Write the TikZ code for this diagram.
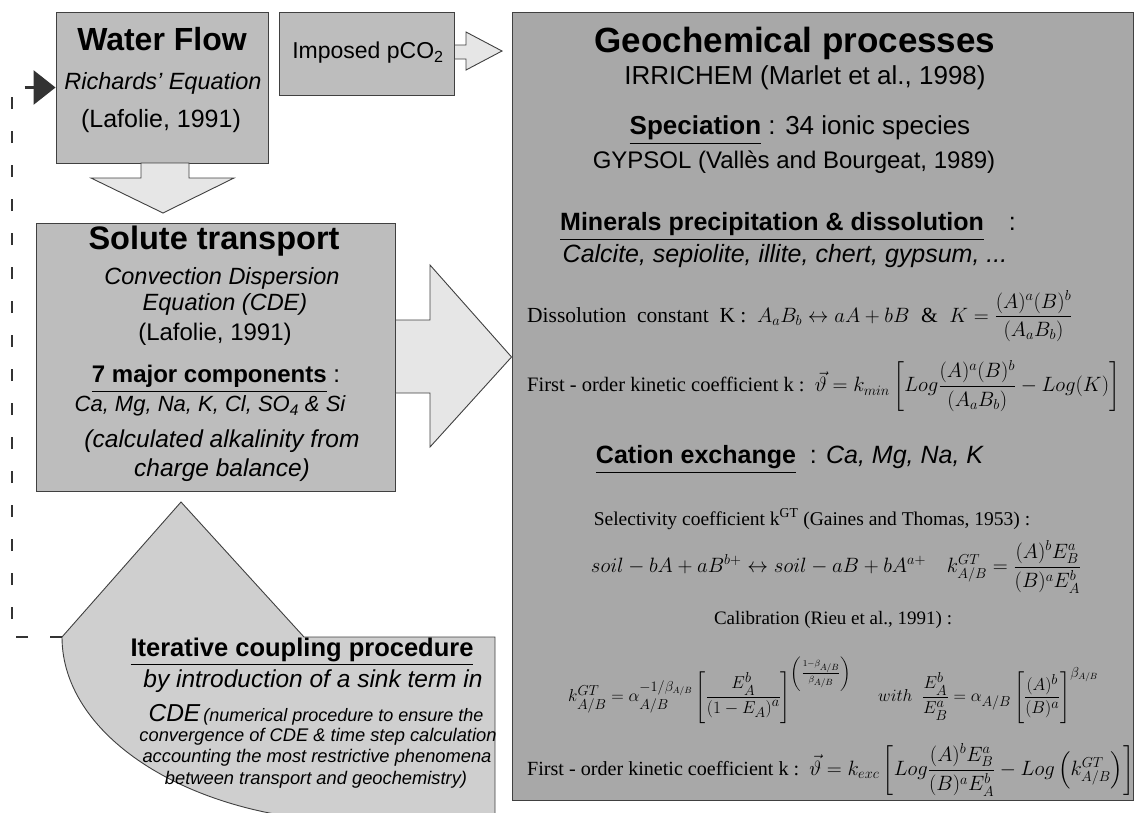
\documentclass[tikz,border=0pt]{standalone}
\usepackage{amsmath}
\usepackage{fontspec}
\setmainfont{Liberation Serif}
\setsansfont{Liberation Sans}
\usetikzlibrary{arrows.meta}
\definecolor{boxgray}{HTML}{BDBDBD}
\definecolor{geogray}{HTML}{A8A8A8}
\definecolor{arrowgray}{HTML}{E6E6E6}
\definecolor{itgray}{HTML}{CFCFCF}
\definecolor{edgegray}{HTML}{404040}
\newcommand{\fs}[1]{\fontsize{#1}{#1}\selectfont}
\begin{document}
\begin{tikzpicture}[x=1pt,y=-1pt,
  box/.style={draw=edgegray, line width=0.9pt, fill=boxgray, rectangle, inner sep=0pt},
  barrow/.style={draw=edgegray, line width=0.9pt, fill=arrowgray},
  txt/.style={inner sep=0pt, anchor=center, align=center},
  sbig/.style={txt, font=\sffamily\bfseries\fs{32}},
  sit/.style={txt, font=\sffamily\itshape\fs{23.5}},
  srm/.style={txt, font=\sffamily\fs{24}},
  rser/.style={txt, font=\rmfamily\fs{19}},
  dashconn/.style={draw=black!80, line width=2.8pt, dash pattern=on 12pt off 22pt, -{Triangle[length=22pt,width=34pt]}}
]
\useasboundingbox (0,0) rectangle (1137,812);
\clip (0,0) rectangle (1137,812);

% boxes
\node[box, minimum width=212pt, minimum height=151pt] (wf) at (162,87.5) {};
\node[box, minimum width=175pt, minimum height=83pt] (pco) at (366.5,53.5) {};
\node[box, fill=geogray, minimum width=621pt, minimum height=788pt] (geo) at (822.5,406) {};
\node[box, minimum width=359pt, minimum height=268pt] (st) at (215.5,357) {};

% iterative coupling shape
\filldraw[draw=edgegray, line width=0.9pt, fill=itgray]
  (181,502) -- (304,637) -- (495,637) -- (495,822) -- (362,822)
  arc[start angle=90, end angle=180, x radius=300, y radius=185] -- cycle;
\coordinate (itl) at (62,637);

% block arrows
\filldraw[barrow] (141,163) -- (189,163) -- (189,178) -- (234,178) -- (163,213) -- (91,178) -- (141,178) -- cycle;
\filldraw[barrow] (pco.east |- 0,45) -- (466,45) -- (466,32) -- (502,51) -- (466,70) -- (466,59) -- (pco.east |- 0,59) -- cycle;
\filldraw[barrow] (st.east |- 0,320) -- (430,320) -- (430,265) -- (geo.west |- 0,357) -- (430,447) -- (430,393) -- (st.east |- 0,393) -- cycle;

% dashed feedback connector
\draw[dashconn] (itl) -- (12,637) |- (wf.west);

% Water flow
\node[sbig] (wft) at (162,39) {Water Flow};
\node[sit] (wfr) at (163,83) {Richards' Equation};
\node[srm, font=\sffamily\fs{25}] (wfl) at (161,121) {(Lafolie, 1991)};
\node[srm, font=\sffamily\fs{23}] (pcot) at (368,53) {Imposed pCO\textsubscript{2}};

% Solute transport
\node[sbig, font=\sffamily\bfseries\fs{32.5}] (stt) at (214,241) {Solute transport};
\node[sit] (st1) at (222,278) {Convection Dispersion};
\node[sit] (st2) at (225,304) {Equation (CDE)};
\node[srm] (st3) at (215,334) {(Lafolie, 1991)};
\node[srm] (st4) at (216,379) {\underline{\textbf{7 major components}} :};
\node[sit, font=\sffamily\itshape\fs{22}] (st5) at (210,406) {Ca, Mg, Na, K, Cl, SO\textsubscript{4} \& Si};
\node[sit, font=\sffamily\itshape\fs{24.5}] (st6) at (222,441) {(calculated alkalinity from};
\node[sit, font=\sffamily\itshape\fs{24.5}] (st7) at (222,470) {charge balance)};

% Iterative coupling
\node[txt, font=\sffamily\bfseries\fs{25.5}] (it1) at (302,652) {\underline{Iterative coupling procedure}};
\node[sit, font=\sffamily\itshape\fs{24.5}] (it2) at (313,681) {by introduction of a sink term in};
\node[sit, font=\sffamily\itshape\fs{18}] (it3) at (316,715) {{\fs{24.5}CDE}\,(numerical procedure to ensure the};
\node[sit, font=\sffamily\itshape\fs{18.3}] (it4) at (318,737) {convergence of CDE \& time step calculation};
\node[sit, font=\sffamily\itshape\fs{18.3}] (it5) at (317,758) {accounting the most restrictive phenomena};
\node[sit, font=\sffamily\itshape\fs{18.3}] (it6) at (316,780) {between transport and geochemistry)};

% Geochemical processes
\node[txt, font=\sffamily\bfseries\fs{35}] (g1) at (795,43) {Geochemical processes};
\node[srm, font=\sffamily\fs{26}] (g2) at (805,78) {IRRICHEM (Marlet et al., 1998)};
\node[srm, font=\sffamily\fs{26}] (g3) at (800,130) {\underline{\textbf{Speciation}} : 34 ionic species};
\node[srm, font=\sffamily\fs{24}] (g4) at (794,162) {GYPSOL (Vallès and Bourgeat, 1989)};
\node[srm, font=\sffamily\fs{25}] (g5) at (788,227) {\underline{\textbf{Minerals precipitation \& dissolution}}\quad :};
\node[sit, font=\sffamily\itshape\fs{25}] (g6) at (785,256) {Calcite, sepiolite, illite, chert, gypsum, ...};
\node[rser, anchor=west, font=\rmfamily\fs{21.5}] (g7) at (527,316)
  {Dissolution\ \ constant\ \ K :\ \ $A_aB_b \leftrightarrow aA+bB \;\;\&\;\; K=\dfrac{(A)^a(B)^b}{\left(A_aB_b\right)}$};
\node[rser, anchor=west, font=\rmfamily\fs{20.5}] (g8) at (527,386)
  {First - order kinetic coefficient k :\ \ $\vec{\vartheta}=k_{min}\left[Log\dfrac{(A)^a(B)^b}{\left(A_aB_b\right)}-Log(K)\right]$};
\node[srm, font=\sffamily\fs{25}] (g9) at (790,460) {\underline{\textbf{Cation exchange}}\ \ : \textit{Ca, Mg, Na, K}};
\node[rser, font=\rmfamily\fs{19.5}] (g10) at (812,519) {Selectivity coefficient k$^{\mathrm{GT}}$ (Gaines and Thomas, 1953) :};
\node[rser, font=\rmfamily\fs{20.8}] (g11) at (836,567)
  {$soil-bA+aB^{b+}\leftrightarrow soil-aB+bA^{a+}\quad k^{GT}_{A/B}=\dfrac{(A)^bE_B^a}{(B)^aE_A^b}$};
\node[rser] (g12) at (833,620) {Calibration (Rieu et al., 1991) :};
\node[rser, anchor=west] (g13) at (568,690)
  {$k^{GT}_{A/B}=\alpha_{A/B}^{-1/\beta_{A/B}}\left[\dfrac{E_A^b}{\left(1-E_A\right)^a}\right]^{\left(\frac{1-\beta_{A/B}}{\beta_{A/B}}\right)}\quad\ with\ \ \dfrac{E_A^b}{E_B^a}=\alpha_{A/B}\left[\dfrac{(A)^b}{(B)^a}\right]^{\beta_{A/B}}$};
\node[rser, anchor=west, font=\rmfamily\fs{20.1}] (g14) at (527,770)
  {First - order kinetic coefficient k :\ \ $\vec{\vartheta}=k_{exc}\left[Log\dfrac{(A)^bE_B^a}{(B)^aE_A^b}-Log\left(k^{GT}_{A/B}\right)\right]$};
\end{tikzpicture}
\end{document}
